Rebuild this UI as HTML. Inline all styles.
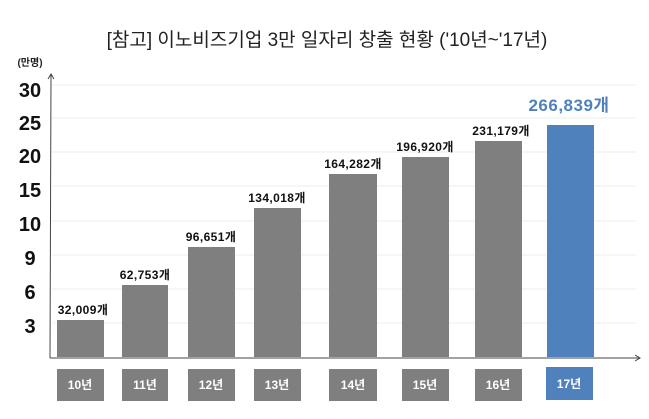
<!DOCTYPE html>
<html><head><meta charset="utf-8"><style>
body{margin:0;background:#fff;}
svg text{font-family:"Liberation Sans","Noto Sans CJK KR",sans-serif;}
</style></head><body>
<svg width="649" height="414" viewBox="0 0 649 414" xmlns="http://www.w3.org/2000/svg">
<text x="327" y="46" font-size="19" text-anchor="middle" fill="#222">[참고] 이노비즈기업 3만 일자리 창출 현황 ('10년~'17년)</text>
<text x="30" y="66" font-size="10" font-weight="bold" text-anchor="middle" fill="#222">(만명)</text>
<g stroke="#eeeee6" stroke-width="1" fill="none">
<line x1="52" y1="85" x2="636" y2="85"/><line x1="52" y1="118" x2="636" y2="118"/>
<line x1="52" y1="152" x2="636" y2="152"/><line x1="52" y1="186" x2="636" y2="186"/>
<line x1="52" y1="221" x2="636" y2="221"/><line x1="52" y1="255" x2="636" y2="255"/>
<line x1="52" y1="289" x2="636" y2="289"/><line x1="52" y1="323" x2="636" y2="323"/>
</g>
<g font-size="20" font-weight="bold" text-anchor="middle" fill="#111">
<text x="30" y="97">30</text><text x="30" y="130">25</text><text x="30" y="163">20</text>
<text x="30" y="197">15</text><text x="30" y="231">10</text><text x="30" y="265">9</text>
<text x="30" y="299">6</text><text x="30" y="333">3</text>
</g>
<g stroke="#444" stroke-width="1" fill="none">
<line x1="51" y1="75" x2="50" y2="358"/><path d="M48 79 L51 74 L54 79"/>
<line x1="50" y1="358" x2="640" y2="358"/><path d="M635 355 L640 358 L635 361"/>
</g>
<g fill="#7f7f7f">
<rect x="57" y="320" width="47" height="37"/><rect x="122" y="285" width="46" height="72"/>
<rect x="188" y="247" width="47" height="110"/><rect x="254" y="208" width="47" height="149"/>
<rect x="329" y="174" width="48" height="183"/><rect x="402" y="157" width="47" height="200"/>
<rect x="475" y="141" width="47" height="216"/>
<rect x="57" y="369" width="47" height="32"/><rect x="122" y="369" width="46" height="32"/>
<rect x="188" y="369" width="47" height="32"/><rect x="254" y="369" width="47" height="32"/>
<rect x="329" y="369" width="48" height="32"/><rect x="402" y="369" width="47" height="32"/>
<rect x="475" y="369" width="47" height="32"/>
</g>
<rect x="547" y="125" width="47" height="232" fill="#4f81bd"/>
<rect x="546" y="367" width="47" height="33" fill="#4f81bd"/>
<g font-size="12" font-weight="bold" text-anchor="middle" fill="#fff">
<text x="80" y="389">10년</text><text x="145" y="389">11년</text><text x="211" y="389">12년</text>
<text x="277" y="389">13년</text><text x="353" y="389">14년</text><text x="425" y="389">15년</text>
<text x="498" y="389">16년</text><text x="569" y="388">17년</text>
</g>
<g font-size="12" font-weight="bold" text-anchor="middle" fill="#111" letter-spacing="0.4">
<text x="83" y="314">32,009개</text><text x="145" y="279">62,753개</text><text x="211" y="241">96,651개</text>
<text x="277" y="202">134,018개</text><text x="353" y="168">164,282개</text><text x="425" y="151">196,920개</text>
<text x="501" y="135">231,179개</text>
</g>
<text x="569" y="111" font-size="17" font-weight="bold" text-anchor="middle" fill="#4f81bd" letter-spacing="0.5">266,839개</text>
</svg>
</body></html>
